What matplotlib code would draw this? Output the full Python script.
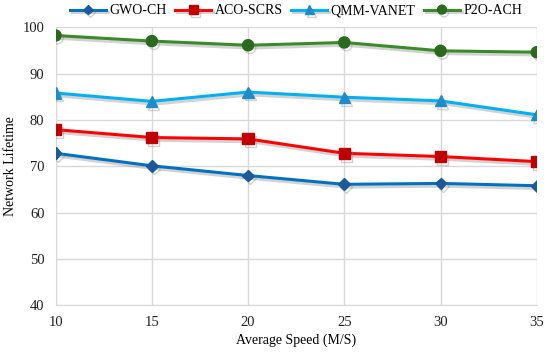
import matplotlib
matplotlib.use("Agg")
import matplotlib.pyplot as plt
import matplotlib.patheffects as pe

speeds = [10, 15, 20, 25, 30, 35]
tick_labels = ["10", "15", "20", "25", "30", "35"]
gwo_ch = [72.8, 70.1, 68.0, 66.1, 66.3, 65.8]
aco_scrs = [77.9, 76.2, 75.9, 72.8, 72.1, 71.0]
qmm_vanet = [85.8, 84.0, 86.0, 84.9, 84.1, 81.1]
p2o_ach = [98.2, 97.0, 96.1, 96.7, 94.9, 94.6]

plt.rcParams['font.family'] = ['Liberation Serif', 'DejaVu Serif']

fig = plt.figure(figsize=(5.5, 3.53), dpi=100)
ax = fig.add_axes([0.101, 0.135, 0.875, 0.788])

shadow = [pe.SimpleLineShadow(offset=(1.5, -2), shadow_color='grey', alpha=0.35), pe.Normal()]

series = [
    ("GWO-CH", gwo_ch, '#0070C0', '#1A5A9C', 'D', 6),
    ("ACO-SCRS", aco_scrs, '#FF0000', '#C00000', 's', 8),
    ("QMM-VANET", qmm_vanet, '#00B0F0', '#1E8CC8', '^', 8),
    ("P2O-ACH", p2o_ach, '#3A8A2A', '#2A6A1E', 'o', 8),
]
for name, vals, lc, mc, mk, ms in series:
    ax.plot(speeds, vals, color=lc, lw=2.2, marker=mk, markersize=ms,
            markerfacecolor=mc, markeredgecolor=mc, label=name,
            path_effects=shadow, zorder=3)

ax.set_xlim(10, 35)
ax.set_ylim(40, 100)
ax.set_xticks(speeds)
ax.set_xticklabels(tick_labels)
ax.set_yticks([40, 50, 60, 70, 80, 90, 100])
ax.grid(True, color='#D9D9D9', lw=1)
ax.set_axisbelow(True)
for s in ['top', 'right']:
    ax.spines[s].set_visible(False)
for s in ['left', 'bottom']:
    ax.spines[s].set_color('#D9D9D9')
ax.tick_params(length=0, labelsize=10.5, colors='#222222', pad=8)
ax.set_xlabel("Average Speed (M/S)", fontsize=10, labelpad=3)
ax.set_ylabel("Network Lifetime", fontsize=10, labelpad=4)

ax.legend(loc='lower center', bbox_to_anchor=(0.5, 1.0), ncol=4, frameon=False,
          fontsize=10, handlelength=2.6, columnspacing=0.6, handletextpad=0.25,
          borderaxespad=0.3, markerscale=0.8)

fig.savefig("out.png", dpi=100)
